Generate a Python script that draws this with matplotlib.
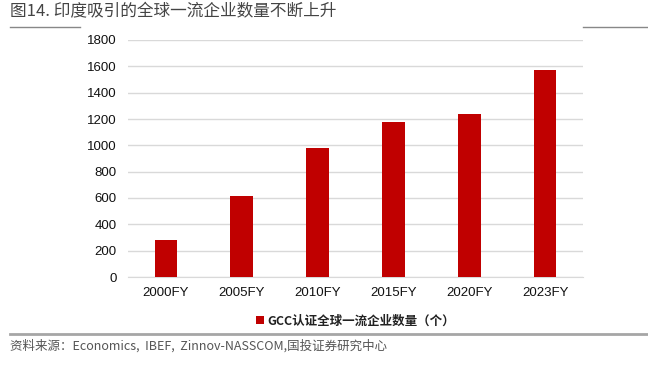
import numpy as np
import matplotlib
matplotlib.use("Agg")
import matplotlib.pyplot as plt

plt.rcParams['font.family'] = ['Liberation Sans', 'Noto Sans CJK SC', 'DejaVu Sans']

# data
years = ['2000FY', '2005FY', '2010FY', '2015FY', '2020FY', '2023FY']
gcc_count = [280, 615, 980, 1180, 1240, 1570]

red = '#C00000'

fig = plt.figure(figsize=(6.48, 3.65), dpi=100)
ax = fig.add_axes([128/648, 1-277/365, 455/648, 237/365])

x = np.arange(len(years))
ax.bar(x, gcc_count, width=0.3, color=red, label='GCC认证全球一流企业数量（个）', zorder=3)
ax.set_xlim(-0.5, len(years)-0.5)
ax.set_ylim(0, 1800)
ax.set_yticks(np.arange(0, 1801, 200))
ax.set_xticks(x)
ax.set_xticklabels(years)
ax.grid(axis='y', color='#D9D9D9', linewidth=1, zorder=0)
for s in ['top', 'right', 'left']:
    ax.spines[s].set_visible(False)
ax.spines['bottom'].set_color('#D9D9D9')
ax.tick_params(axis='both', length=0, labelsize=9.5, colors='#111111')
ax.tick_params(axis='y', pad=8)
ax.tick_params(axis='x', pad=7)

leg = ax.legend(loc='upper center', bbox_to_anchor=(0.5, -0.11), frameon=False,
                handlelength=0.6, handleheight=0.6, handletextpad=0.3,
                prop={'family': ['Noto Sans CJK SC'], 'size': 9, 'weight': 'bold'})
for t in leg.get_texts():
    t.set_color('#222222')

# title and decorations
fig.text(10/648, 1-12/365, '图14. 印度吸引的全球一流企业数量不断上升', ha='left', va='center',
         fontsize=12, color='#444444', family=['Noto Sans CJK SC'])
fig.add_artist(plt.Line2D([10/648, 80/648], [1-27/365, 1-27/365], color='#888888', lw=1))
fig.add_artist(plt.Line2D([583/648, 1.0], [1-27/365, 1-27/365], color='#888888', lw=1))
fig.add_artist(plt.Line2D([10/648, 1.0], [1-334/365, 1-334/365], color='#A6A6A6', lw=2))
fig.text(10/648, 1-346/365, '资料来源：Economics,  IBEF,  Zinnov-NASSCOM,国投证券研究中心', ha='left', va='center',
         fontsize=9, color='#555555', style='italic', family=['Noto Sans CJK SC', 'DejaVu Sans'])

fig.savefig('out.png', dpi=100)
